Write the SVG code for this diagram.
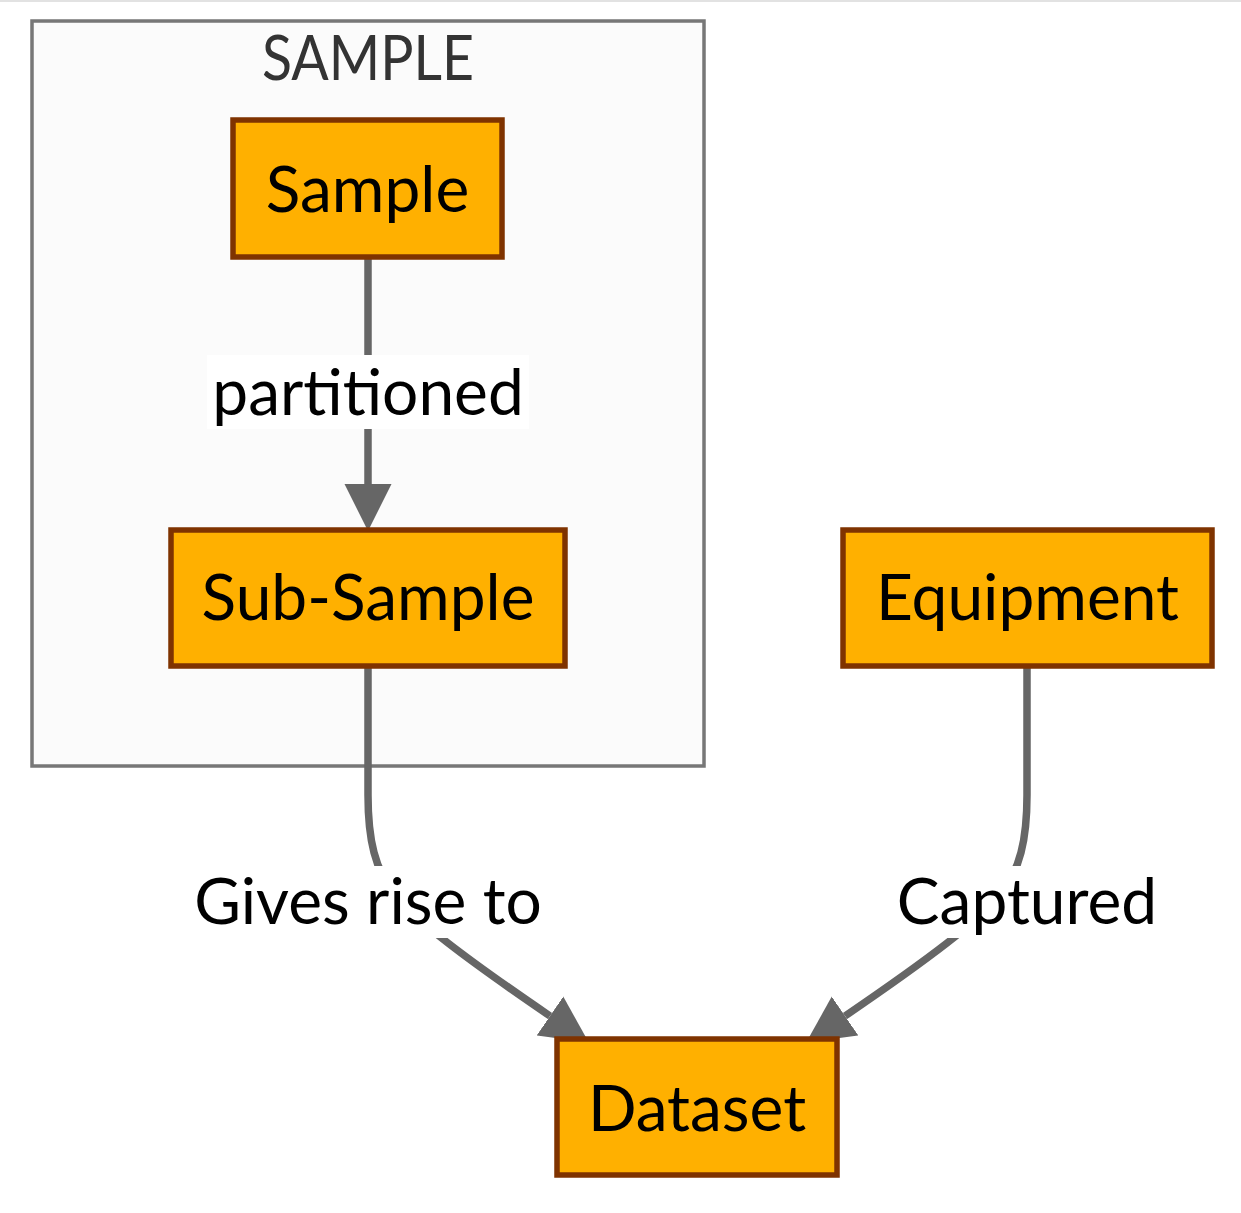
<svg xmlns="http://www.w3.org/2000/svg" width="1241" height="1213" viewBox="0 0 1241 1213">
<style>
.node rect{fill:#ffb000;stroke:#7f3300;stroke-width:5.5}
.node text{font-family:Lato,"Open Sans",sans-serif;font-size:64px;fill:#000;text-anchor:middle}
.edge{fill:none;stroke:#666;stroke-width:7.5}
.lbl{font-family:Lato,"Open Sans",sans-serif;font-size:64px;fill:#000;text-anchor:middle}
.lblbg{fill:#fff}
</style>
<defs>
<marker id="arrow" viewBox="0 0 10 10" refX="0" refY="5" markerUnits="userSpaceOnUse" markerWidth="47" markerHeight="49" orient="auto">
<path d="M0,0 L10,5 L0,10 z" fill="#666"/>
</marker>
</defs>
<rect width="1241" height="1213" fill="#fff"/>
<line x1="0" y1="1" x2="1241" y2="1" stroke="#e2e2e2" stroke-width="2"/>
<g id="cluster-SAMPLE">
<rect x="32" y="21" width="672" height="745" fill="#fbfbfb" stroke="#777" stroke-width="3.5"/>
<text x="368" y="80" font-family="Lato,'Open Sans',sans-serif" font-size="62" fill="#333" text-anchor="middle" textLength="212" lengthAdjust="spacingAndGlyphs">SAMPLE</text>
</g>
<g id="connectors">
<path class="edge" d="M368,257 L368,484" marker-end="url(#arrow)"/>
<path class="edge" d="M368,666 L368,795 C368,840 375,870 395,895 C415,920 465,958 550,1016" marker-end="url(#arrow)"/>
<path class="edge" d="M1027,666 L1027,795 C1027,840 1020,870 1000,895 C980,920 930,958 845,1016" marker-end="url(#arrow)"/>
<g id="label-partitioned">
<rect class="lblbg" x="207" y="355" width="322" height="74"/>
<text class="lbl" x="368" y="415">partitioned</text>
</g>
<g id="label-gives">
<rect class="lblbg" x="188" y="866" width="360" height="72"/>
<text class="lbl" x="368" y="924">Gives rise to</text>
</g>
<g id="label-captured">
<rect class="lblbg" x="893" y="866" width="268" height="72"/>
<text class="lbl" x="1027" y="924">Captured</text>
</g>
</g>
<g id="node-Sample" class="node">
<rect x="233" y="120" width="269" height="137"/>
<text x="367.5" y="212">Sample</text>
</g>
<g id="node-SubSample" class="node">
<rect x="171" y="530" width="394" height="136"/>
<text x="368" y="620">Sub-Sample</text>
</g>
<g id="node-Equipment" class="node">
<rect x="843" y="530" width="369" height="136"/>
<text x="1027.5" y="620">Equipment</text>
</g>
<g id="node-Dataset" class="node">
<rect x="557" y="1039" width="280" height="136"/>
<text x="697" y="1131">Dataset</text>
</g>
</svg>
